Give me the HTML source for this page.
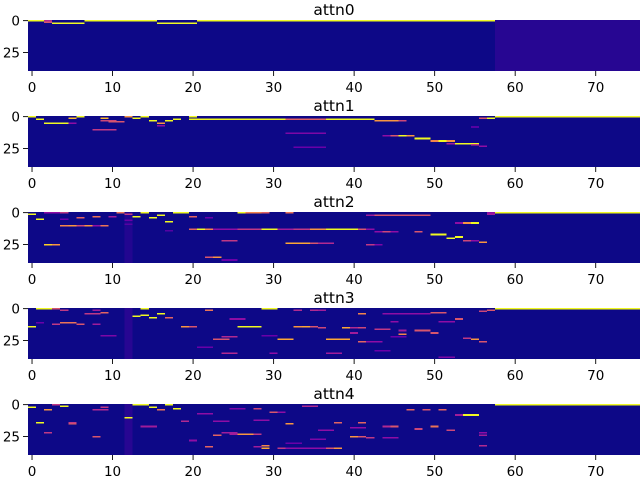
<!DOCTYPE html>
<html><head><meta charset="utf-8">
<style>
html,body{margin:0;padding:0;background:#fff;}
svg{display:block;font-family:"DejaVu Sans","Liberation Sans",sans-serif;}
</style></head>
<body>
<svg id="chart" width="640" height="480" viewBox="0 0 640 480" xmlns="http://www.w3.org/2000/svg"></svg>
<script>
// ---- data ----
const titles = ["attn0","attn1","attn2","attn3","attn4"];
const nCols = 76;
const nRows = 40;
const xTicks = [0,10,20,30,40,50,60,70];
const yTicks = [0,25];
// background value for columns 58..75 per subplot
const tailValue = [0.05,0,0,0,0];
const tailTopRow = [0,1,1,1,1];
// segments: [row, colStart, colEnd, value]
const attn0 = [[0,0,1,1],[0,2,2,0.4],[1,2,2,0.55],[2,3,6,1],[0,7,15,1],[2,16,20,1],[0,21,57,1]];
const attn1 = [[0,0,0,1],[0,6,6,1],[0,12,12,0.75],[0,14,14,1],[0,20,20,1],[1,5,5,0.85],[1,9,9,0.85],[1,13,13,1],[2,1,1,1],
 [5,2,4,1],[5,5,5,0.3],[3,9,10,0.5],[4,10,11,0.55],[5,16,16,0.75],[3,15,15,1],[7,16,16,0.3],[3,17,17,1],[2,18,18,1],
 [2,20,31,1],[2,32,36,0.6],[2,37,42,1],[3,43,45,0.75],[3,46,46,0.5],[10,8,10,0.45],[13,32,36,0.25],[24,33,36,0.2],
 [15,44,44,0.3],[15,45,45,0.55],[15,46,46,1],[15,47,47,0.75],[17,48,49,1],[19,50,50,0.7],[19,51,51,1],[19,52,52,0.75],
 [21,53,55,1],[21,52,52,0.35],[22,55,55,0.45],[23,56,56,0.3],[1,56,56,0.55],[1,57,57,1],[8,55,55,0.15]];
const attn2 = [[0,2,3,0.3],[0,4,4,0.45],[0,11,11,0.65],[1,12,12,0.45],[0,14,14,1],[0,18,19,1],[0,26,26,1],[0,27,28,0.7],[0,29,29,0.6],
 [0,32,32,0.65],[0,57,57,0.3],[1,0,0,1],[5,1,1,1],[4,6,6,0.6],[3,8,8,0.65],[3,10,10,0.35],[3,13,13,1],[2,16,16,1],[4,15,15,1],
 [7,17,17,1],[3,20,20,0.6],[10,4,4,0.7],[10,5,5,0.75],[10,6,6,0.5],[10,7,7,0.75],[10,9,9,0.65],[10,8,8,0.3],
 [13,20,20,0.6],[13,21,21,1],[13,22,22,0.7],[13,23,25,0.3],[13,26,28,0.45],[13,29,30,1],[13,31,32,0.35],[13,33,34,0.45],
 [13,35,36,0.75],[13,37,40,1],[13,41,41,0.55],[13,42,42,0.3],[15,43,43,0.3],[15,44,44,0.5],[15,45,45,0.3],
 [22,24,25,0.45],[24,32,34,0.8],[24,35,35,0.55],[24,36,37,0.4],[25,2,2,0.9],[25,3,3,0.75],[25,42,42,0.45],[25,43,43,0.25],
 [35,22,22,0.55],[35,23,23,0.75],[37,24,25,0.2],[2,43,49,0.55],[2,42,42,0.35],[8,53,53,0.3],[8,54,54,0.75],[8,55,55,1],
 [17,50,51,1],[19,53,53,1],[20,52,52,1],[15,48,48,0.55],[23,56,56,0.75],[22,54,54,0.5],[22,55,55,0.3],[1,57,57,0.35],
 [5,4,4,0.2],[6,12,12,0.2],[9,12,12,0.15],[14,17,17,0.15],[4,22,22,0.2]];
const attn3 = [[0,1,2,1],[0,3,3,0.55],[1,4,4,0.45],[1,8,8,0.35],[0,14,14,1],[1,22,22,0.65],[0,29,30,1],[1,33,33,0.4],[1,35,35,0.4],
 [1,36,36,0.35],[1,57,57,0.55],[6,13,13,1],[5,14,14,1],[7,15,15,1],[4,16,16,1],[7,17,17,0.6],[11,4,5,0.65],[12,6,6,0.55],
 [11,1,1,0.2],[12,3,3,0.45],[4,7,8,0.45],[3,9,9,0.6],[14,0,0,1],[14,19,19,0.75],[14,20,20,0.55],[14,26,28,1],[14,33,33,0.75],
 [14,34,34,0.8],[14,35,35,0.55],[15,36,36,0.5],[15,39,39,0.8],[15,40,40,0.4],[15,41,41,0.5],[16,43,44,0.45],[17,46,46,0.35],
 [24,31,32,0.8],[24,37,39,0.8],[24,23,24,0.55],[22,24,25,0.4],[26,41,41,0.6],[26,42,43,0.3],[4,41,41,0.7],[3,50,51,0.55],
 [4,44,49,0.3],[17,48,49,0.55],[19,50,50,0.55],[20,46,46,0.7],[8,53,53,0.55],[23,54,54,0.45],[24,55,55,0.75],[26,56,56,0.55],
 [2,56,56,0.5],[35,24,25,0.4],[35,30,30,0.3],[35,37,38,0.35],[21,9,10,0.25],[8,25,26,0.3],[21,29,30,0.2],[10,45,45,0.3],
 [12,8,8,0.35],[30,21,22,0.2],[33,43,44,0.2],[38,51,52,0.25],[22,45,46,0.2],[19,40,40,0.35],[10,51,52,0.3]];
const attn4 = [[1,4,4,1],[0,3,3,0.45],[0,13,14,1],[0,17,17,1],[2,0,0,1],[4,2,2,0.75],[2,15,15,1],[4,16,16,0.65],[3,18,18,1],
 [2,9,9,0.45],[4,8,9,0.4],[14,1,1,1],[15,5,5,0.6],[14,5,5,0.45],[10,12,12,1],[23,26,28,0.75],[23,25,25,0.35],[23,28,28,0.45],
 [34,29,29,0.8],[34,31,31,0.45],[34,37,37,0.55],[34,38,38,0.75],[34,32,36,0.3],[33,28,28,0.35],[8,54,55,1],[8,53,53,0.35],
 [25,40,40,0.75],[25,41,41,0.55],[26,42,42,0.45],[15,32,32,0.75],[6,30,30,0.55],[6,31,31,0.3],[13,19,19,0.4],[13,23,24,0.3],
 [17,14,15,0.35],[22,2,2,0.45],[25,8,8,0.55],[3,28,28,0.5],[1,34,35,0.4],[14,38,38,0.6],[14,41,41,0.6],[17,45,45,0.55],
 [17,44,44,0.4],[4,47,47,0.6],[4,49,49,0.55],[4,51,51,0.6],[17,50,50,0.65],[19,48,48,0.5],[20,52,52,0.5],[22,56,56,0.3],
 [24,56,56,0.35],[32,56,56,0.4],[33,22,22,0.6],[32,29,29,0.7],[24,23,23,0.6],[22,24,25,0.35],[18,40,41,0.3],[26,44,45,0.3],
 [30,32,33,0.2],[7,21,22,0.3],[28,20,20,0.3],[12,28,29,0.3],[27,35,36,0.25],[3,25,26,0.25],[20,36,37,0.3]];
const panels = [attn0,attn1,attn2,attn3,attn4];
// haze value (faint vertical stripe at column 12) per panel
const hazeValue = [0,0,0.04,0.05,0.05];

// ---- layout ----
const tops = [20,116,212,308,404];
const plotH = 51, plotL = 28, plotW = 612;
const cw = plotW / nCols, rh = plotH / nRows;
const xs = c => plotL + c * cw;
const ys = (p, r) => tops[p] + r * rh;

const stops = ["#0d0887","#41049d","#6a00a8","#8f0da4","#b12a90","#cc4778","#e16462","#f2844b","#fca636","#fcce25","#f0f921"];
function hex(h){return [1,3,5].map(i=>parseInt(h.substr(i,2),16));}
function plasma(v){
  v=Math.max(0,Math.min(1,v)); const t=v*10, i=Math.min(9,Math.floor(t)), f=t-i;
  const a=hex(stops[i]), b=hex(stops[i+1]);
  return "rgb("+a.map((x,k)=>Math.round(x+(b[k]-x)*f)).join(",")+")";
}
const NS="http://www.w3.org/2000/svg";
const svg=document.getElementById("chart");
function mk(tag, attrs, parent){
  const e=document.createElementNS(NS,tag);
  for(const k in attrs) e.setAttribute(k,attrs[k]);
  (parent||svg).appendChild(e); return e;
}

panels.forEach((segs,p)=>{
  const g=mk("g",{"shape-rendering":"crispEdges"});
  
  
  const bg=mk("rect",{x:xs(0),y:ys(p,0),width:xs(58)-xs(0),height:plotH,fill:plasma(0)},g);
  
  
  const tail=mk("rect",{x:xs(58),y:ys(p,0),width:xs(nCols)-xs(58),height:plotH,fill:plasma(tailValue[p])},g);
  
  
  if(tailTopRow[p]){
    const tr=mk("rect",{x:xs(58),y:ys(p,0),width:xs(nCols)-xs(58),height:rh,fill:plasma(1)},g);
    
    
  }
  if(hazeValue[p]>0){
    const hz2=mk("rect",{x:xs(12),y:ys(p,0),width:cw,height:plotH,fill:plasma(hazeValue[p])},g);
    
    
  }
  segs.forEach(s=>{
    const r=mk("rect",{x:xs(s[1]),y:ys(p,s[0]),width:xs(s[2]+1)-xs(s[1]),height:rh+0.3,fill:plasma(s[3])},g);
    
    
  });
  const bottom=tops[p]+plotH;
  const t=mk("text",{x:plotL+plotW/2,y:tops[p]-5,"text-anchor":"middle","font-size":"15.5"});
  t.textContent=titles[p];
  
  
  xTicks.forEach(v=>{
    const cx=xs(v+0.5);
    const tk=mk("line",{x1:cx,x2:cx,y1:bottom,y2:bottom+5,stroke:"#000","stroke-width":"0.9"});
    
    
    const lb=mk("text",{x:cx,y:bottom+21,"text-anchor":"middle","font-size":"13.5"});
    lb.textContent=v;
    
    
  });
  yTicks.forEach(v=>{
    const cy=ys(p,v+0.5);
    const tk=mk("line",{x1:plotL-5,x2:plotL,y1:cy,y2:cy,stroke:"#000","stroke-width":"0.9"});
    
    
    const lb=mk("text",{x:plotL-8,y:cy+5,"text-anchor":"end","font-size":"13.5"});
    lb.textContent=v;
    
    
  });
});
</script>
</body></html>
